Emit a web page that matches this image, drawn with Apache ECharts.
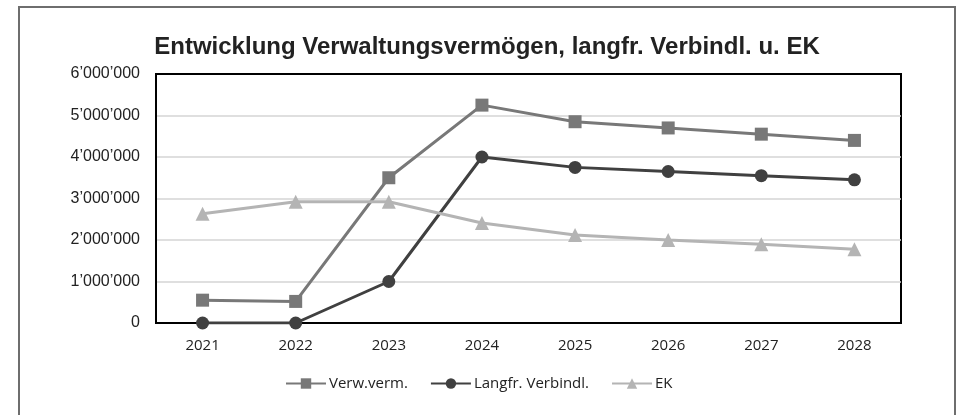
<!DOCTYPE html>
<html>
<head>
<meta charset="utf-8">
<script src="https://cdn.jsdelivr.net/npm/echarts@6/dist/echarts.min.js"></script>
<style>
  html, body { margin: 0; padding: 0; background: #fff; }
  #chart { width: 974px; height: 415px; }
</style>
</head>
<body>
<div id="chart"></div>
<script>
// data
var years = ['2021', '2022', '2023', '2024', '2025', '2026', '2027', '2028']
var verwVerm = [550000, 520000, 3500000, 5250000, 4850000, 4700000, 4550000, 4400000]
var langfrVerb = [0, 0, 1000000, 4000000, 3750000, 3650000, 3550000, 3450000]
var ek = [2630000, 2920000, 2920000, 2410000, 2120000, 2000000, 1900000, 1780000]
var yTicks = [0, 1000000, 2000000, 3000000, 4000000, 5000000, 6000000]

function fmt(v) {
  return String(v).replace(/\B(?=(\d{3})+(?!\d))/g, '\u2019')
}

var chart = echarts.init(document.getElementById('chart'))

function lineSeries(name, data, color, symbol, size) {
  return {
    name: name,
    type: 'line',
    data: data,
    symbol: symbol,
    symbolSize: size,
    showAllSymbol: true,
    itemStyle: { color: color },
    lineStyle: { color: color, width: 3 },
    animation: false
  }
}

// gridlines light grey, the top one is part of the black plot frame
var splitColors = yTicks.map(function (t, i) {
  return i === yTicks.length - 1 ? '#000' : '#d4d4d4'
})

chart.setOption({
  backgroundColor: '#fff',
  graphic: [{
    type: 'rect',
    shape: { x: 19, y: 7, width: 936, height: 430 },
    style: { fill: 'none', stroke: '#6e6e6e', lineWidth: 2 },
    silent: true
  }],
  title: {
    text: 'Entwicklung Verwaltungsvermögen, langfr. Verbindl. u. EK',
    left: 'center',
    top: 30,
    textStyle: {
      fontFamily: 'Liberation Sans',
      fontSize: 24,
      fontWeight: 'bold',
      color: '#222'
    }
  },
  grid: {
    left: 156,
    right: 73,
    top: 74,
    bottom: 92,
    show: true,
    borderColor: '#000',
    borderWidth: 2
  },
  legend: {
    top: 371,
    left: 280,
    itemWidth: 40,
    itemHeight: 13,
    itemGap: 22,
    textStyle: { fontFamily: 'Open Sans', fontSize: 15, color: '#222', padding: [0, 0, 0, -2] },
    data: ['Verw.verm.', 'Langfr. Verbindl.', 'EK']
  },
  xAxis: {
    type: 'category',
    data: years,
    boundaryGap: true,
    axisLine: { show: true, lineStyle: { color: '#000', width: 2 } },
    axisTick: { show: false },
    axisLabel: {
      margin: 15,
      fontFamily: 'Open Sans',
      fontSize: 15,
      color: '#222'
    }
  },
  yAxis: {
    type: 'value',
    min: yTicks[0],
    max: yTicks[yTicks.length - 1],
    interval: 1000000,
    axisLine: { show: true, lineStyle: { color: '#000', width: 2 } },
    axisTick: { show: false },
    splitLine: { lineStyle: { color: splitColors, width: 1.5 } },
    axisLabel: {
      margin: 16,
      fontFamily: 'Liberation Sans',
      fontSize: 16,
      color: '#222',
      formatter: fmt
    }
  },
  series: [
    lineSeries('Verw.verm.', verwVerm, '#787878', 'rect', 13),
    lineSeries('Langfr. Verbindl.', langfrVerb, '#404040', 'circle', 13),
    lineSeries('EK', ek, '#b4b4b4', 'triangle', 14)
  ]
})
</script>
</body>
</html>
